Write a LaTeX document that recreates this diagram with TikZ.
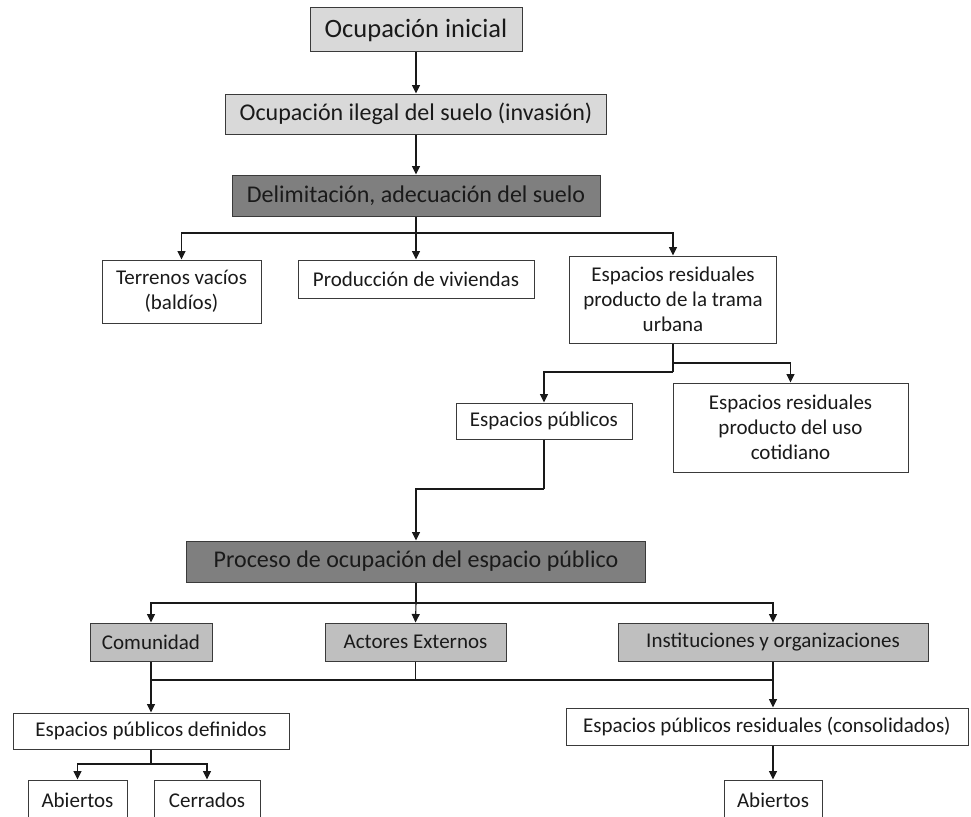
\documentclass[tikz,border=0pt]{standalone}
\usepackage{fontspec}
\setmainfont{Carlito}
\usetikzlibrary{arrows.meta}
\definecolor{lightg}{HTML}{D9D9D9}
\definecolor{midg}{HTML}{BFBFBF}
\definecolor{darkg}{HTML}{7F7F7F}
\definecolor{txt}{HTML}{1A1A1A}
\definecolor{edge}{HTML}{3A3A3A}
\tikzset{
  box/.style={draw=edge, line width=1pt, fill=white, inner sep=0pt, align=center, text=txt,
    font=\fontsize{21}{25}\selectfont},
  bigtext/.style={font=\fontsize{24}{28}\selectfont},
  hugetext/.style={font=\fontsize{26.5}{30}\selectfont},
  conn/.style={draw=black!90, line width=1.1pt},
  arr/.style={conn, -{Triangle[length=8.5pt,width=8pt]}}
}
\begin{document}
\begin{tikzpicture}[x=1pt,y=-1pt]
\useasboundingbox (0,0) rectangle (971,816);
\clip (0,0) rectangle (971,816);
\fill[white] (0,0) rectangle (971,816);
% nodes
\node[box,hugetext,fill=lightg,minimum width=212pt,minimum height=44pt] (ini) at (416,30) {Ocupación inicial};
\node[box,bigtext,fill=lightg,minimum width=381pt,minimum height=40pt] (ileg) at (416,114) {Ocupación ilegal del suelo (invasión)};
\node[box,bigtext,fill=darkg,minimum width=368pt,minimum height=41pt] (deli) at (416,195.5) {Delimitación, adecuación del suelo};
\node[box,minimum width=159pt,minimum height=63pt] (terr) at (181.5,291.5) {Terrenos vacíos\\(baldíos)};
\node[box,minimum width=236pt,minimum height=38pt] (prod) at (416,279) {Producción de viviendas};
\node[box,minimum width=207pt,minimum height=87pt] (tram) at (673,299.5) {Espacios residuales\\producto de la trama\\urbana};
\node[box,minimum width=176pt,minimum height=36pt] (epub) at (544,421) {Espacios públicos};
\node[box,minimum width=235pt,minimum height=89pt] (coti) at (790.5,427.5) {Espacios residuales\\producto del uso\\cotidiano};
\node[box,bigtext,fill=darkg,minimum width=459pt,minimum height=41pt] (proc) at (416,561.5) {Proceso de ocupación del espacio público};
\node[box,fill=midg,minimum width=122pt,minimum height=38pt] (comu) at (151,642) {Comunidad};
\node[box,fill=midg,minimum width=181pt,minimum height=38pt] (acto) at (415.5,642) {Actores Externos};
\node[box,fill=midg,minimum width=310pt,minimum height=38pt] (inst) at (773,642) {Instituciones y organizaciones};
\node[box,minimum width=276pt,minimum height=36pt] (defi) at (151,731) {Espacios públicos definidos};
\node[box,minimum width=402pt,minimum height=37pt] (resi) at (767,726.5) {Espacios públicos residuales (consolidados)};
\node[box,minimum width=99pt,minimum height=40pt] (ab1) at (77.5,800) {Abiertos};
\node[box,minimum width=106pt,minimum height=40pt] (cerr) at (207,800) {Cerrados};
\node[box,minimum width=98pt,minimum height=40pt] (ab2) at (773,800) {Abiertos};
% junctions
\coordinate (j1) at (416,233);
\coordinate (j2) at (673,363);
\coordinate (j3) at (673,372);
\coordinate (j4) at (544,489);
\coordinate (j5) at (416,603);
\coordinate (j6) at (151,680);
\coordinate (j7) at (151,764);
% connectors
\draw[arr] (ini) -- (ileg);
\draw[arr] (ileg) -- (deli);
\draw[conn] (deli.south) -- (j1);
\draw[arr] (j1) -| (terr.north);
\draw[arr] (j1) -- (prod.north);
\draw[arr] (j1) -| (tram.north);
\draw[conn] (tram.south) -- (j3);
\draw[arr] (j3) -| (epub.north);
\draw[arr] (j2) -| (coti.north);
\draw[conn] (epub.south) -- (j4);
\draw[arr] (j4) -| (proc.north);
\draw[conn] (proc.south) -- (j5);
\draw[arr] (j5) -| (comu.north);
\draw[arr] (j5) -- (acto.north);
\draw[arr] (j5) -| (inst.north);
\draw[conn] (comu.south) -- (j6) -- (inst.south |- j6);
\draw[conn] (acto.south) -- (acto.south |- j6);
\draw[arr] (inst.south) -- (inst.south |- resi.north);
\draw[arr] (j6) -- (defi.north);
\draw[conn] (defi.south) -- (j7);
\draw[arr] (j7) -| (ab1.north);
\draw[arr] (j7) -| (cerr.north);
\draw[arr] (inst.south |- resi.south) -- (ab2.north);
\end{tikzpicture}
\end{document}
